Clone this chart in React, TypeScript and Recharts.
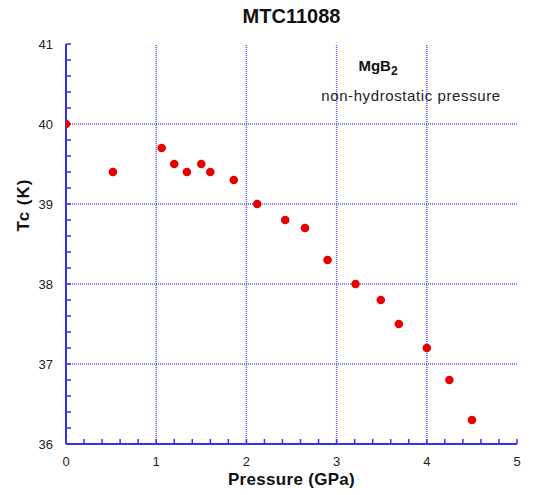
import React from 'react';
import { ScatterChart, Scatter, XAxis, YAxis, ReferenceLine } from 'recharts';

// Pressure (GPa)
const pressure = [0, 0.52, 1.06, 1.2, 1.34, 1.5, 1.6, 1.86, 2.12, 2.43, 2.65, 2.9, 3.21, 3.49, 3.69, 4.0, 4.25, 4.5];
// Tc (K)
const tc = [40.0, 39.4, 39.7, 39.5, 39.4, 39.5, 39.4, 39.3, 39.0, 38.8, 38.7, 38.3, 38.0, 37.8, 37.5, 37.2, 36.8, 36.3];

const xTicks = [0, 0.2, 0.4, 0.6, 0.8, 1, 1.2, 1.4, 1.6, 1.8, 2, 2.2, 2.4, 2.6, 2.8, 3, 3.2, 3.4, 3.6, 3.8, 4, 4.2, 4.4, 4.6, 4.8, 5];
const yTicks = [36, 36.2, 36.4, 36.6, 36.8, 37, 37.2, 37.4, 37.6, 37.8, 38, 38.2, 38.4, 38.6, 38.8, 39, 39.2, 39.4, 39.6, 39.8, 40, 40.2, 40.4, 40.6, 40.8, 41];
const xGrid = [1, 2, 3, 4];
const yGrid = [37, 38, 39, 40];

const data = pressure.map((p, i) => ({ p, tc: tc[i] }));

const AXIS = '#3333ee';
const GRID = '#5a5aff';
const FONT = '"Liberation Sans", Arial, Helvetica, sans-serif';

const intLabel = (v: number) => (Number.isInteger(v) ? String(v) : '');
const blank = () => '';

const Dot = (props: any) => <circle cx={props.cx} cy={props.cy} r={4.3} fill="#e60000" />;

export default function App() {
  const tickStyle = { fontSize: 13, fill: '#222', fontFamily: FONT };
  return (
    <div style={{ position: 'absolute', left: 0, top: 0, width: 535, height: 495, background: '#fff', fontFamily: FONT }}>
      <ScatterChart width={535} height={495} margin={{ top: 44, right: 18, bottom: 0, left: 0 }}>
        <XAxis
          xAxisId={0}
          dataKey="p"
          type="number"
          domain={[0, 5]}
          ticks={xTicks}
          interval={0}
          allowDataOverflow
          height={51}
          tickSize={-5}
          tickMargin={18}
          tickFormatter={intLabel}
          tick={tickStyle}
          tickLine={{ stroke: AXIS, strokeWidth: 1.5 }}
          axisLine={{ stroke: AXIS, strokeWidth: 2 }}
        />
        <XAxis
          xAxisId="top"
          orientation="top"
          type="number"
          domain={[0, 5]}
          ticks={xTicks}
          interval={0}
          allowDataOverflow
          height={0}
          tickSize={-5}
          tickFormatter={blank}
          tickLine={{ stroke: AXIS, strokeWidth: 1.5 }}
          axisLine={{ stroke: AXIS, strokeWidth: 2 }}
        />
        <YAxis
          yAxisId={0}
          dataKey="tc"
          type="number"
          domain={[36, 41]}
          ticks={yTicks}
          interval={0}
          allowDataOverflow
          width={66}
          tickSize={-5}
          tickMargin={18}
          tickFormatter={intLabel}
          tick={tickStyle}
          tickLine={{ stroke: AXIS, strokeWidth: 1.5 }}
          axisLine={{ stroke: AXIS, strokeWidth: 2 }}
        />
        <YAxis
          yAxisId="right"
          orientation="right"
          type="number"
          domain={[36, 41]}
          ticks={yTicks}
          interval={0}
          allowDataOverflow
          width={0}
          tickSize={-5}
          tickFormatter={blank}
          tickLine={{ stroke: AXIS, strokeWidth: 1.5 }}
          axisLine={{ stroke: AXIS, strokeWidth: 2 }}
        />
        {xGrid.map((g) => (
          <ReferenceLine key={'x' + g} x={g} stroke={GRID} strokeWidth={1.5} strokeDasharray="1 1" />
        ))}
        {yGrid.map((g) => (
          <ReferenceLine key={'y' + g} y={g} stroke={GRID} strokeWidth={1.5} strokeDasharray="1 1" />
        ))}
        <Scatter data={data} shape={Dot} isAnimationActive={false} />
      </ScatterChart>

      <div style={{ position: 'absolute', left: 66, top: 5, width: 451, textAlign: 'center', fontSize: 20, fontWeight: 'bold', color: '#111' }}>
        MTC11088
      </div>
      <div style={{ position: 'absolute', left: 66, top: 471, width: 451, lineHeight: 1, textAlign: 'center', fontSize: 17, fontWeight: 'bold', color: '#111', letterSpacing: 0.3 }}>
        Pressure (GPa)
      </div>
      <div
        style={{
          position: 'absolute',
          left: 23,
          top: 205,
          transform: 'translate(-50%, -50%) rotate(-90deg)',
          whiteSpace: 'nowrap',
          lineHeight: 1,
          fontSize: 17,
          fontWeight: 'bold',
          color: '#111',
          letterSpacing: 1,
        }}
      >
        Tc (K)
      </div>
      <div style={{ position: 'absolute', left: 330, top: 57, width: 96, textAlign: 'center', fontSize: 15, fontWeight: 'bold', color: '#111' }}>
        MgB<sub style={{ fontSize: 12, verticalAlign: -4 }}>2</sub>
      </div>
      <div style={{ position: 'absolute', left: 300, top: 87, width: 222, textAlign: 'center', fontSize: 15, color: '#222', whiteSpace: 'nowrap', letterSpacing: 0.6 }}>
        non-hydrostatic pressure
      </div>
    </div>
  );
}
